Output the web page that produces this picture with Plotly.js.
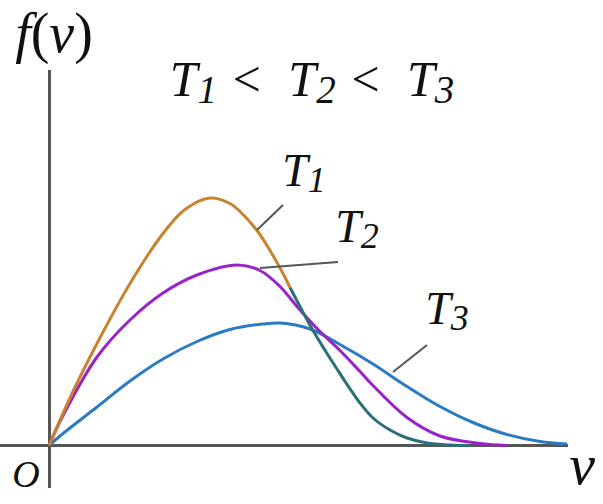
<!DOCTYPE html>
<html>
<head>
<meta charset="utf-8">
<script src="https://cdn.plot.ly/plotly-3.0.1.min.js"></script>
<style>
html,body{margin:0;padding:0;background:#fff;}
#wrap{position:relative;width:603px;height:504px;overflow:hidden;}
#chart{position:absolute;left:0;top:0;width:603px;height:504px;}
.lbl{position:absolute;font-family:"Liberation Serif","Times New Roman",serif;font-style:italic;
  color:#111;line-height:1;white-space:pre;transform:translateX(-50%);}
.lbl sub{font-size:78%;vertical-align:-0.18em;line-height:0;font-style:italic;}
.lbl .up{font-style:normal;}
</style>
</head>
<body>
<div id="wrap">
  <div id="chart"></div>
</div>
<script>
// Speed v (arbitrary units) and distribution f(v)
const t1WarmV = [0, 0.48, 0.96, 1.62, 2.28, 2.72, 3.22, 3.62, 3.82, 4.16, 4.42, 4.68, 4.82];
const t1WarmF = [0, 0.54, 1.02, 1.62, 2.12, 2.36, 2.475, 2.42, 2.34, 2.15, 1.95, 1.72, 1.58];
const t1TailV = [4.82, 5.02, 5.28, 5.76, 6.22, 6.48, 6.82, 7.16, 7.56, 8.02, 8.42];
const t1TailF = [1.58, 1.39, 1.15, 0.765, 0.425, 0.275, 0.155, 0.075, 0.025, 0.005, 0];
const t2V = [0, 0.28, 0.96, 1.62, 2.28, 2.96, 3.76, 4.22, 4.62, 4.96, 5.36, 5.82, 6.22, 6.48, 7.16, 7.82, 8.62, 9.16];
const t2F = [0, 0.3, 0.885, 1.255, 1.525, 1.705, 1.805, 1.75, 1.59, 1.39, 1.17, 0.95, 0.74, 0.6, 0.28, 0.095, 0.02, 0];
const t3V = [0, 0.28, 0.96, 1.62, 2.28, 2.96, 3.62, 4.28, 4.62, 5.22, 5.82, 6.48, 7.16, 7.82, 8.48, 9.16, 9.82, 10.36];
const t3F = [0, 0.12, 0.385, 0.645, 0.865, 1.04, 1.16, 1.215, 1.225, 1.165, 1.01, 0.815, 0.59, 0.39, 0.23, 0.11, 0.04, 0.015];

// Texts
const curveLabels = ['T<sub>1</sub>', 'T<sub>2</sub>', 'T<sub>3</sub>'];
const titleText = 'T<sub>1</sub> &lt;  T<sub>2</sub> &lt;  T<sub>3</sub>';
const yLabel = 'f<span class="up">(</span>v<span class="up">)</span>';
const xLabel = 'v';
const originLabel = 'O';

// leader lines: [curve point, tail point]
const leaders = [
  [[4.16, 2.155], [4.68, 2.405]],
  [[4.22, 1.775], [5.78, 1.835]],
  [[6.88, 0.735], [7.56, 1.005]]
];

const W = 603, H = 504;
const M = {l: 0, r: 35, t: 70, b: 16};
const lw = 3;
function tr(x, y, color) {
  return {x: x, y: y, type: 'scatter', mode: 'lines', hoverinfo: 'skip',
    line: {color: color, width: lw, shape: 'spline', smoothing: 1}};
}
const data = [
  tr(t3V, t3F, '#2b7bc2'),
  tr(t2V, t2F, '#9a22c9'),
  tr(t1WarmV, t1WarmF, '#c9832f'),
  tr(t1TailV, t1TailF, '#2b6f78')
];

const layout = {
  width: W, height: H,
  margin: M,
  font: {family: 'Liberation Serif', color: '#111'},
  paper_bgcolor: 'rgba(0,0,0,0)', plot_bgcolor: 'rgba(0,0,0,0)',
  showlegend: false,
  xaxis: {range: [-0.98, 10.38], showgrid: false, showticklabels: false, ticks: '',
    zeroline: true, zerolinecolor: '#555', zerolinewidth: 3, showline: false, fixedrange: true},
  yaxis: {range: [-0.425, 3.755], showgrid: false, showticklabels: false, ticks: '',
    zeroline: true, zerolinecolor: '#555', zerolinewidth: 3, showline: false, fixedrange: true},
  shapes: leaders.map(p => ({type: 'line', xref: 'x', yref: 'y',
    x0: p[0][0], y0: p[0][1], x1: p[1][0], y1: p[1][1],
    line: {color: '#555', width: 2}}))
};

Plotly.newPlot('chart', data, layout, {displayModeBar: false});

// text placed by horizontal centre and baseline (pixels)
const ASC = 0.8375; // baseline offset inside a line-height:1 box for Liberation Serif
function place(html, cx, baseline, size) {
  const d = document.createElement('div');
  d.className = 'lbl';
  d.style.fontSize = size + 'px';
  d.style.left = cx + 'px';
  d.style.top = (baseline - ASC * size) + 'px';
  d.innerHTML = html;
  document.getElementById('wrap').appendChild(d);
}
place(yLabel, 54, 52, 56);
place(titleText, 312, 96, 50);
place(curveLabels[0], 304, 187, 46);
place(curveLabels[1], 357, 243, 46);
place(curveLabels[2], 447, 325, 46);
place(originLabel, 26, 487, 38);
place(xLabel, 582, 485, 58);
</script>
</body>
</html>
